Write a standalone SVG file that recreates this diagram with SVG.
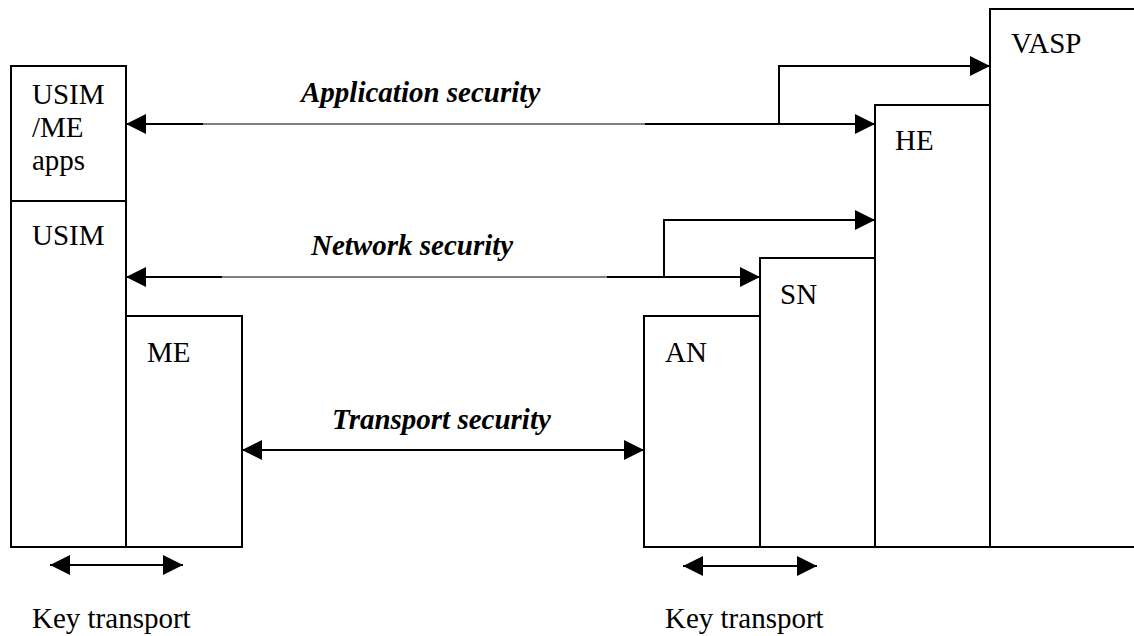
<svg xmlns="http://www.w3.org/2000/svg" width="1134" height="636" viewBox="0 0 1134 636">
<style>
.box{fill:#fff;stroke:#000;stroke-width:2}
.lbl{font-family:"Liberation Serif","Times New Roman",serif;font-size:29px;fill:#000}
.sec{font-family:"Liberation Serif","Times New Roman",serif;font-size:29px;font-weight:bold;font-style:italic;fill:#000}
.ln{fill:none;stroke:#000;stroke-width:2}
.thin{fill:none;stroke:#000;stroke-width:1.2}
</style>
<defs>
<marker id="ah" markerUnits="userSpaceOnUse" markerWidth="20" markerHeight="20" viewBox="0 0 20 20" refX="20" refY="10" orient="auto-start-reverse">
<path d="M0,0 L20,10 L0,20 z" fill="#000"/>
</marker>
</defs>
<rect width="1134" height="636" fill="#fff"/>
<g id="node-usim-me-apps">
<rect class="box" x="11" y="66" width="115" height="135"/>
<text class="lbl" x="32" y="104">USIM</text>
<text class="lbl" x="32" y="137">/ME</text>
<text class="lbl" x="32" y="170">apps</text>
</g>
<g id="node-usim">
<rect class="box" x="11" y="201" width="115" height="346"/>
<text class="lbl" x="32" y="245">USIM</text>
</g>
<g id="node-me">
<rect class="box" x="126" y="316" width="116" height="231"/>
<text class="lbl" x="147" y="362">ME</text>
</g>
<g id="node-an">
<rect class="box" x="644" y="316" width="116" height="231"/>
<text class="lbl" x="665" y="362">AN</text>
</g>
<g id="node-sn">
<rect class="box" x="760" y="258" width="115" height="289"/>
<text class="lbl" x="780" y="304">SN</text>
</g>
<g id="node-he">
<rect class="box" x="875" y="105" width="115" height="442"/>
<text class="lbl" x="895" y="150">HE</text>
</g>
<g id="node-vasp">
<rect class="box" x="990" y="9" width="160" height="538"/>
<text class="lbl" x="1011" y="53">VASP</text>
</g>
<g id="connectors">
<path class="ln" d="M203,124 H126" marker-end="url(#ah)"/>
<path class="thin" d="M203,124 H645"/>
<path class="ln" d="M645,124 H875" marker-end="url(#ah)"/>
<path class="ln" d="M779,124 V66 H990" marker-end="url(#ah)"/>
<path class="ln" d="M222,277 H126" marker-end="url(#ah)"/>
<path class="thin" d="M222,277 H607"/>
<path class="ln" d="M607,277 H760" marker-end="url(#ah)"/>
<path class="ln" d="M664,277 V220 H875" marker-end="url(#ah)"/>
<path class="ln" d="M242,450 H644" marker-start="url(#ah)" marker-end="url(#ah)"/>
<path class="ln" d="M50,565 H183" marker-start="url(#ah)" marker-end="url(#ah)"/>
<path class="ln" d="M683,566 H817" marker-start="url(#ah)" marker-end="url(#ah)"/>
</g>
<g id="labels">
<text class="sec" x="301" y="102">Application security</text>
<text class="sec" x="311" y="255">Network security</text>
<text class="sec" x="332" y="429">Transport security</text>
<text class="lbl" x="32" y="628">Key transport</text>
<text class="lbl" x="665" y="628">Key transport</text>
</g>
</svg>
